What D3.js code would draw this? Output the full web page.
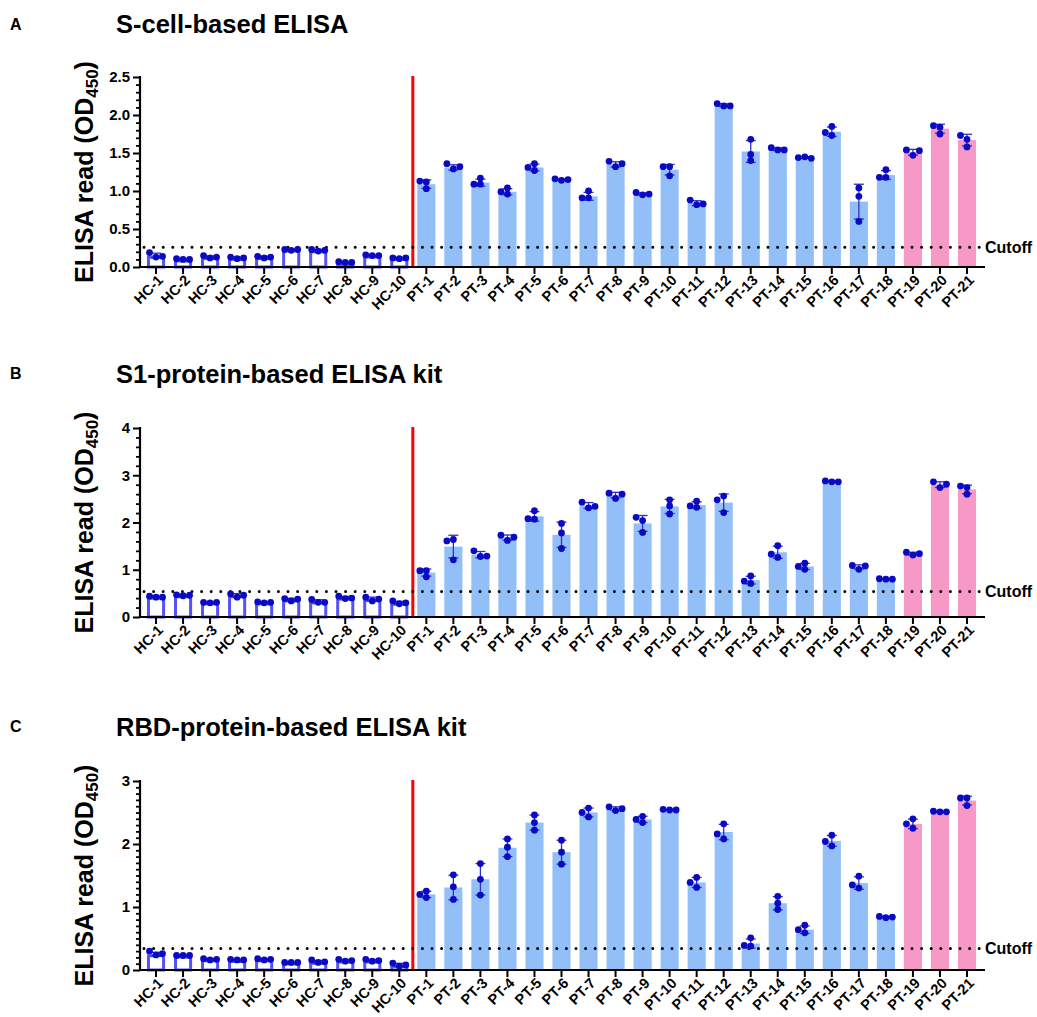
<!DOCTYPE html>
<html><head><meta charset="utf-8">
<script src="https://cdn.jsdelivr.net/npm/d3@7"></script>
<style>
body{margin:0;background:#fff;}
svg{display:block;font-family:"Liberation Sans",Arial,Helvetica,sans-serif;}
</style>
</head><body>
<svg id="chart" width="1037" height="1017"></svg>
<script>
// ---------- DATA ----------
const categories = ["HC-1","HC-2","HC-3","HC-4","HC-5","HC-6","HC-7","HC-8","HC-9","HC-10",
  "PT-1","PT-2","PT-3","PT-4","PT-5","PT-6","PT-7","PT-8","PT-9","PT-10","PT-11","PT-12",
  "PT-13","PT-14","PT-15","PT-16","PT-17","PT-18","PT-19","PT-20","PT-21"];
const groups = ["HC","HC","HC","HC","HC","HC","HC","HC","HC","HC",
  "PT","PT","PT","PT","PT","PT","PT","PT","PT","PT","PT","PT","PT","PT","PT","PT","PT","PT",
  "PT2","PT2","PT2"];
const panelLetters = ["A","B","C"];
const titles = ["S-cell-based ELISA","S1-protein-based ELISA kit","RBD-protein-based ELISA kit"];
const yTicksA = [0,0.5,1.0,1.5,2.0,2.5];
const yTicksB = [0,1,2,3,4];
const yTicksC = [0,1,2,3];
const yTickLabelsA = ["0.0","0.5","1.0","1.5","2.0","2.5"];
const yTickLabelsB = ["0","1","2","3","4"];
const yTickLabelsC = ["0","1","2","3"];
const cutoffs = [0.26, 0.54, 0.34];
const cutoffLabel = "Cutoff";

const meansA = [0.15,0.10,0.13,0.12,0.13,0.23,0.22,0.06,0.15,0.12,
  1.09,1.31,1.11,0.99,1.31,1.15,0.93,1.35,0.96,1.28,0.84,2.13,1.52,1.55,1.44,1.78,0.86,1.21,1.51,1.82,1.67];
const pointsA = [[0.13,0.19,0.14],[0.10,0.11,0.10],[0.12,0.15,0.13],[0.11,0.13,0.12],[0.12,0.14,0.13],
  [0.22,0.23,0.23],[0.21,0.23,0.22],[0.06,0.07,0.06],[0.15,0.16,0.15],[0.11,0.12,0.12],
  [1.03,1.12,1.13],[1.29,1.36,1.32],[1.09,1.17,1.09],[0.96,1.04,0.99],[1.27,1.36,1.31],
  [1.14,1.16,1.15],[0.91,1.00,0.91],[1.32,1.39,1.36],[0.95,0.98,0.96],[1.20,1.32,1.32],
  [0.82,0.88,0.83],[2.12,2.15,2.12],[1.48,1.68,1.40],[1.54,1.57,1.54],[1.45,1.44,1.43],
  [1.73,1.85,1.77],[1.04,0.93,0.60],[1.18,1.28,1.18],[1.47,1.54,1.53],[1.75,1.84,1.86],[1.58,1.68,1.73]];

const meansB = [0.43,0.46,0.31,0.46,0.31,0.37,0.33,0.41,0.38,0.30,
  0.94,1.49,1.32,1.68,2.13,1.74,2.36,2.58,1.98,2.34,2.37,2.42,0.78,1.37,1.07,2.87,1.06,0.80,1.34,2.80,2.70];
const pointsB = [[0.42,0.44,0.42],[0.45,0.47,0.46],[0.30,0.31,0.31],[0.42,0.49,0.46],[0.30,0.32,0.31],
  [0.34,0.39,0.38],[0.31,0.37,0.31],[0.39,0.44,0.40],[0.34,0.42,0.38],[0.28,0.34,0.30],
  [0.85,0.98,0.98],[1.64,1.61,1.21],[1.28,1.40,1.29],[1.62,1.73,1.69],[2.07,2.25,2.08],
  [1.98,1.78,1.45],[2.31,2.43,2.34],[2.51,2.62,2.60],[1.79,2.04,2.11],[2.48,2.35,2.18],
  [2.32,2.45,2.35],[2.56,2.48,2.21],[0.71,0.87,0.76],[1.26,1.51,1.33],[1.01,1.14,1.07],
  [2.86,2.88,2.86],[1.01,1.09,1.08],[0.80,0.81,0.80],[1.31,1.37,1.34],[2.74,2.86,2.81],[2.60,2.74,2.77]];

const meansC = [0.25,0.23,0.17,0.16,0.17,0.12,0.13,0.15,0.15,0.08,
  1.20,1.31,1.44,1.94,2.34,1.87,2.50,2.56,2.39,2.54,1.39,2.19,0.42,1.06,0.64,2.05,1.38,0.84,2.32,2.51,2.69];
const pointsC = [[0.24,0.30,0.26],[0.23,0.23,0.23],[0.16,0.18,0.17],[0.16,0.17,0.16],[0.16,0.18,0.17],
  [0.12,0.12,0.12],[0.12,0.16,0.13],[0.14,0.17,0.15],[0.14,0.17,0.15],[0.06,0.11,0.08],
  [1.15,1.25,1.20],[1.12,1.32,1.51],[1.19,1.44,1.69],[1.80,1.95,2.08],[2.22,2.34,2.46],
  [1.68,1.87,2.06],[2.43,2.57,2.50],[2.53,2.59,2.56],[2.34,2.44,2.39],[2.54,2.55,2.54],
  [1.31,1.47,1.39],[2.08,2.32,2.16],[0.38,0.51,0.39],[0.96,1.17,1.06],[0.59,0.71,0.64],
  [1.97,2.14,2.04],[1.30,1.49,1.35],[0.83,0.85,0.84],[2.25,2.40,2.32],[2.51,2.52,2.51],[2.61,2.73,2.73]];

// ---------- STYLE / LAYOUT ----------
const colors = {PT:"#92bff7", PT2:"#f799c6", HCstroke:"#5353f7", dot:"#0a0ac4", err:"#3030c8", red:"#ff0000"};
const layout = [
  {top:77, bottom:267, letterY:30, titleY:33, max:2.5, minorStep:0.1},
  {top:428, bottom:617, letterY:379, titleY:383, max:4, minorStep:0.2},
  {top:781, bottom:970, letterY:732, titleY:736, max:3, minorStep:0.1}
];
const panels = [
  {means:meansA, points:pointsA, ticks:yTicksA, labels:yTickLabelsA},
  {means:meansB, points:pointsB, ticks:yTicksB, labels:yTickLabelsB},
  {means:meansC, points:pointsC, ticks:yTicksC, labels:yTickLabelsC}
];
const FONT = '"Liberation Sans",Arial,sans-serif';

const svg = d3.select("#chart");
const axisX = 140;
const x = d3.scaleBand().domain(categories).range([142.5, 980.5]).paddingInner(0.33).paddingOuter(0.165);
const bw = x.bandwidth();

panels.forEach((p, pi) => {
  const L = layout[pi];
  const g = svg.append("g");
  const y = d3.scaleLinear().domain([0, L.max]).range([L.bottom, L.top]);

  // letter + title
  g.append("text").attr("x", 10).attr("y", L.letterY).attr("font-size", 16).attr("font-weight", "bold").text(panelLetters[pi]);
  g.append("text").attr("x", 116).attr("y", L.titleY).attr("font-size", 25.5).attr("font-weight", "bold").text(titles[pi]);

  // y label
  const ylab = g.append("text")
    .attr("transform", `translate(93,${(L.top + L.bottom) / 2}) rotate(-90)`)
    .attr("text-anchor", "middle").attr("font-size", 25).attr("font-weight", "bold");
  ylab.append("tspan").text("ELISA read (OD");
  ylab.append("tspan").attr("font-size", 17).attr("dy", 5).text("450");
  ylab.append("tspan").attr("dy", -5).text(")");

  // bars
  categories.forEach((c, i) => {
    const grp = groups[i];
    if (grp === "HC") {
      g.append("rect").attr("x", x(c) + 1.5).attr("y", y(p.means[i]) + 1.5)
        .attr("width", bw - 3).attr("height", Math.max(0, y(0) - y(p.means[i]) - 1.5))
        .attr("fill", "#fff").attr("stroke", colors.HCstroke).attr("stroke-width", 3);
    } else {
      g.append("rect").attr("x", x(c)).attr("y", y(p.means[i]))
        .attr("width", bw).attr("height", y(0) - y(p.means[i]))
        .attr("fill", colors[grp]);
    }
  });

  // red separator
  const sepX = (x("HC-10") + bw + x("PT-1")) / 2;
  g.append("line").attr("x1", sepX).attr("x2", sepX).attr("y1", L.top - 1).attr("y2", y(0))
    .attr("stroke", colors.red).attr("stroke-width", 3);

  // cutoff line
  g.append("line").attr("x1", 144).attr("x2", 981).attr("y1", y(cutoffs[pi])).attr("y2", y(cutoffs[pi]))
    .attr("stroke", "#000").attr("stroke-width", 3).attr("stroke-linecap", "round")
    .attr("stroke-dasharray", "0 9.6");
  g.append("text").attr("x", 985).attr("y", y(cutoffs[pi]) + 5.5).attr("font-size", 16)
    .attr("font-weight", "bold").text(cutoffLabel);

  // error bars and dots
  categories.forEach((c, i) => {
    const cx = x(c) + bw / 2;
    const pts = p.points[i];
    const m = p.means[i];
    const sd = d3.deviation(pts);
    const eg = g.append("g").attr("stroke", colors.err).attr("stroke-width", 1.3);
    eg.append("line").attr("x1", cx).attr("x2", cx).attr("y1", y(m + sd)).attr("y2", y(m - sd));
    eg.append("line").attr("x1", cx - 5).attr("x2", cx + 5).attr("y1", y(m + sd)).attr("y2", y(m + sd));
    eg.append("line").attr("x1", cx - 5).attr("x2", cx + 5).attr("y1", y(m - sd)).attr("y2", y(m - sd));

    const placed = [];
    const offs = [0, -6.5, 6.5, -13, 13];
    pts.forEach(v => {
      const py = y(v);
      let dx = 0;
      for (const o of offs) {
        if (!placed.some(q => Math.abs(q.py - py) < 6 && Math.abs(q.dx - o) < 6)) { dx = o; break; }
      }
      placed.push({py, dx});
    });
    placed.forEach(q => {
      g.append("circle").attr("cx", cx + q.dx).attr("cy", q.py).attr("r", 3.4).attr("fill", colors.dot);
    });
  });

  // y axis
  const minorVals = d3.range(0, L.max + 1e-9, L.minorStep).filter(v => !p.ticks.some(t => Math.abs(t - v) < 1e-6));
  const yMinor = g.append("g").attr("transform", `translate(${axisX},0)`)
    .call(d3.axisLeft(y).tickValues(minorVals).tickSize(4).tickFormat(""));
  yMinor.select(".domain").remove();
  yMinor.selectAll("line").attr("stroke", "#000").attr("stroke-width", 1.8);
  const yAx = g.append("g").attr("transform", `translate(${axisX},0)`)
    .call(d3.axisLeft(y).tickValues(p.ticks).tickSize(7).tickPadding(3)
      .tickFormat((d, k) => p.labels[k]));
  yAx.select(".domain").remove();
  yAx.selectAll("line").attr("stroke", "#000").attr("stroke-width", 2);
  yAx.selectAll("text").attr("font-size", 15).attr("font-weight", "bold").attr("fill", "#000")
    .attr("font-family", FONT);
  g.append("line").attr("x1", axisX).attr("x2", axisX).attr("y1", L.top - 1).attr("y2", y(0) + 1)
    .attr("stroke", "#000").attr("stroke-width", 2.2);

  // x axis
  const xAx = g.append("g").attr("transform", `translate(0,${y(0)})`)
    .call(d3.axisBottom(x).tickSize(7).tickSizeOuter(0));
  xAx.select(".domain").remove();
  xAx.selectAll("line").attr("stroke", "#000").attr("stroke-width", 2);
  xAx.selectAll("text").attr("font-size", 14.5).attr("font-weight", "bold").attr("fill", "#000")
    .attr("font-family", FONT)
    .attr("text-anchor", "end").attr("dy", null).attr("y", null)
    .attr("transform", "translate(8,14) rotate(-45)");
  g.append("line").attr("x1", axisX - 1).attr("x2", 985).attr("y1", y(0)).attr("y2", y(0))
    .attr("stroke", "#000").attr("stroke-width", 2.2);
});
</script>
</body></html>
